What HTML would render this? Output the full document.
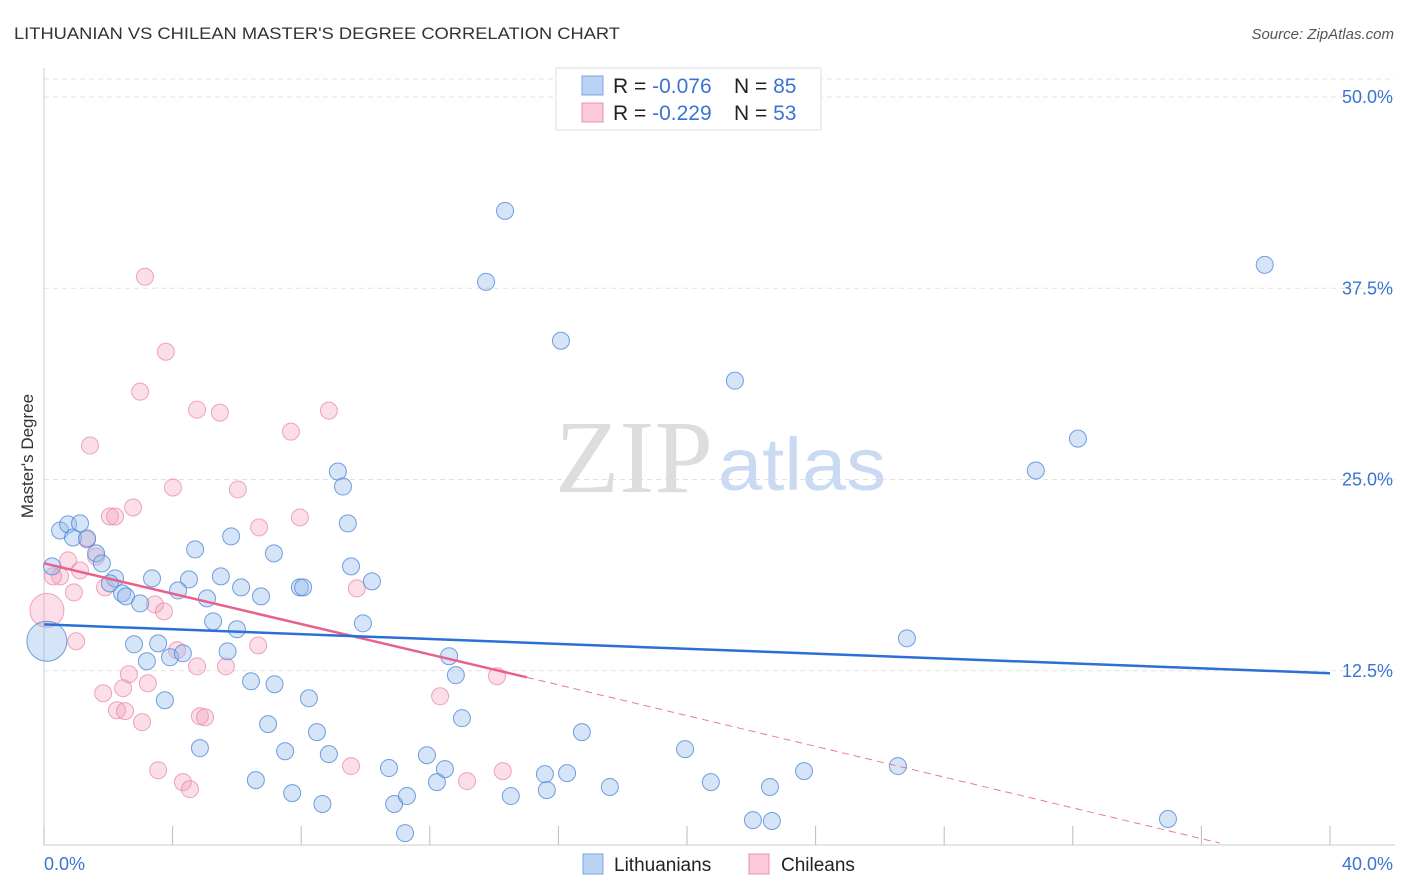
<!DOCTYPE html>
<html><head><meta charset="utf-8">
<style>
body{margin:0;background:#fff;font-family:"Liberation Sans",sans-serif;}
#wrap{position:relative;width:1406px;height:892px;overflow:hidden;}
</style></head>
<body>
<div id="wrap">
<svg id="chart" width="1406" height="892" xmlns="http://www.w3.org/2000/svg">
<text x="14" y="39" font-size="17" fill="#333" textLength="606" lengthAdjust="spacingAndGlyphs">LITHUANIAN VS CHILEAN MASTER'S DEGREE CORRELATION CHART</text>
<text x="1394" y="39" font-size="15" fill="#555" font-style="italic" text-anchor="end">Source: ZipAtlas.com</text>
<text transform="translate(33,456) rotate(-90)" font-size="17" fill="#333" text-anchor="middle">Master's Degree</text>
<g id="grid"></g>
<text x="555" y="492" font-size="104" fill="#ddd" textLength="158" lengthAdjust="spacingAndGlyphs" font-family="Liberation Serif,serif">ZIP</text>
<text x="718" y="490" font-size="74" fill="#c9daf2" textLength="168" lengthAdjust="spacingAndGlyphs">atlas</text>
<g id="pts"></g>
<g id="lines"></g>
<g>
<rect x="556" y="68" width="265" height="62" fill="#fff" stroke="#ddd"/>
<rect x="582" y="76" width="21" height="19" fill="#b9d3f5" stroke="#7aa6dd"/>
<rect x="582" y="103" width="21" height="19" fill="#fbc9d7" stroke="#ea94b0"/>
<text x="613" y="93" font-size="21" fill="#222">R = <tspan fill="#3a74d0">-0.076</tspan></text>
<text x="734" y="93" font-size="21" fill="#222">N = <tspan fill="#3a74d0">85</tspan></text>
<text x="613" y="120" font-size="21" fill="#222">R = <tspan fill="#3a74d0">-0.229</tspan></text>
<text x="734" y="120" font-size="21" fill="#222">N = <tspan fill="#3a74d0">53</tspan></text>
</g>
<g>
<rect x="583" y="854" width="20" height="20" fill="#b9d3f5" stroke="#7aa6dd"/>
<text x="614" y="871" font-size="19" fill="#222">Lithuanians</text>
<rect x="749" y="854" width="20" height="20" fill="#fbc9d7" stroke="#ea94b0"/>
<text x="781" y="871" font-size="19" fill="#222">Chileans</text>
</g>
</svg>
</div>
<script>
const yTicks=[12.5,25,37.5,50];
const yTickLabels=["12.5%","25.0%","37.5%","50.0%"];
const xTicks=[0,4,8,12,16,20,24,28,32,36,40];
const xEndLabels=["0.0%","40.0%"];
const blueX=[14.34,13.75,16.08,21.49,37.97,32.16,30.85,26.84,9.14,9.30,9.45,9.55,10.20,9.92,5.82,4.70,7.15,5.50,4.51,3.36,4.17,6.13,6.75,7.96,8.06,5.07,5.26,6.00,5.71,2.80,3.55,3.20,3.92,4.32,6.44,7.17,8.24,3.76,6.97,8.49,4.85,7.50,8.86,6.59,7.72,8.66,10.73,10.89,11.29,11.23,11.91,12.47,12.22,13.00,12.60,12.81,14.52,15.58,15.64,16.27,16.73,17.60,19.94,20.74,22.05,22.58,22.64,23.64,26.56,34.96,0.25,0.50,0.75,0.90,1.12,1.34,1.62,1.80,2.21,2.05,2.43,2.55,2.99];
const blueY=[42.56,37.92,34.07,31.46,39.03,27.67,25.59,14.62,25.52,24.54,22.13,19.32,18.34,15.60,21.28,20.43,20.17,18.67,18.47,18.54,17.75,17.95,17.36,17.95,17.95,17.23,15.73,15.21,13.77,14.23,14.29,13.12,13.38,13.64,11.81,11.62,10.70,10.57,9.01,8.49,7.44,7.24,7.05,5.35,4.50,3.79,6.14,3.79,4.31,1.89,6.98,6.07,5.22,9.40,13.45,12.21,4.31,5.74,4.70,5.81,8.49,4.90,7.38,5.22,2.74,4.90,2.68,5.94,6.27,2.81,19.32,21.67,22.07,21.21,22.13,21.15,20.17,19.52,18.54,18.21,17.56,17.36,16.90];
const pinkX=[3.14,3.79,2.99,4.76,5.47,8.86,7.68,1.43,4.01,6.03,2.77,2.05,2.21,6.69,7.96,1.34,1.62,0.75,1.12,0.50,0.28,0.93,1.90,3.45,3.73,9.73,1.00,4.14,6.66,4.76,5.66,2.64,3.23,2.46,1.84,12.32,14.09,2.27,2.52,4.85,5.01,3.05,3.55,4.32,4.54,9.55,13.16,14.27];
const pinkY=[38.25,33.35,30.74,29.57,29.37,29.50,28.13,27.22,24.48,24.35,23.17,22.58,22.58,21.87,22.52,21.08,19.97,19.71,19.06,18.67,18.67,17.62,17.95,16.84,16.38,17.88,14.43,13.84,14.16,12.79,12.79,12.27,11.68,11.36,11.03,10.83,12.14,9.92,9.86,9.53,9.46,9.14,6.00,5.22,4.76,6.27,5.29,5.94];
const bigBlue=[[0.09,14.43]];
const bigPink=[[0.09,16.45]];
const blueTrend=[[0,15.53],[40,12.34]];
const pinkTrend=[[0,19.52],[15.02,12.07]];
const pinkDash=[[15.02,12.07],[36.57,1.24]];

const X=v=>44+v/40*1286;
const Y=v=>862-v*15.3;
const NS="http://www.w3.org/2000/svg";
function mk(tag,attrs,parent){const e=document.createElementNS(NS,tag);for(const k in attrs)e.setAttribute(k,attrs[k]);parent.appendChild(e);return e;}
const grid=document.getElementById('grid');
let e;
e=mk('line',{x1:44,y1:68,x2:44,y2:845,stroke:'#ccc'},grid);


e=mk('line',{x1:44,y1:845,x2:1395,y2:845,stroke:'#ccc'},grid);


e=mk('line',{x1:44,y1:79,x2:1395,y2:79,stroke:'#e2e2e2','stroke-dasharray':'5,4'},grid);


yTicks.forEach((t,i)=>{
  e=mk('line',{x1:44,y1:Y(t),x2:1395,y2:Y(t),stroke:'#e2e2e2','stroke-dasharray':'5,4'},grid);
  
  
  e=mk('text',{x:1393,y:Y(t)+6,'font-size':18,fill:'#3a74d0','text-anchor':'end'},grid);
  e.textContent=yTickLabels[i];
  
  
});
xTicks.forEach(t=>{
  e=mk('line',{x1:X(t),y1:826,x2:X(t),y2:845,stroke:'#bbb'},grid);
  
  
});
e=mk('text',{x:44,y:870,'font-size':18,fill:'#3a74d0'},grid);
e.textContent=xEndLabels[0];


e=mk('text',{x:1393,y:870,'font-size':18,fill:'#3a74d0','text-anchor':'end'},grid);
e.textContent=xEndLabels[1];



const pts=document.getElementById('pts');
pinkX.forEach((x,i)=>{
  e=mk('circle',{cx:X(x),cy:Y(pinkY[i]),r:8.5,fill:'rgba(244,160,186,0.35)',stroke:'rgba(232,130,162,0.7)','stroke-width':1},pts);
  
  
});
bigPink.forEach(p=>{
  e=mk('circle',{cx:X(p[0]),cy:Y(p[1]),r:17,fill:'rgba(244,160,186,0.35)',stroke:'rgba(232,130,162,0.7)'},pts);
  
  
});
blueX.forEach((x,i)=>{
  e=mk('circle',{cx:X(x),cy:Y(blueY[i]),r:8.5,fill:'rgba(150,188,236,0.4)',stroke:'rgba(70,130,215,0.75)','stroke-width':1},pts);
  
  
});
bigBlue.forEach(p=>{
  e=mk('circle',{cx:X(p[0]),cy:Y(p[1]),r:20,fill:'rgba(150,188,236,0.4)',stroke:'rgba(70,130,215,0.75)'},pts);
  
  
});
const lines=document.getElementById('lines');
e=mk('line',{x1:X(pinkDash[0][0]),y1:Y(pinkDash[0][1]),x2:X(pinkDash[1][0]),y2:Y(pinkDash[1][1]),stroke:'#e8789c','stroke-width':1,'stroke-dasharray':'7,5'},lines);


e=mk('line',{x1:X(pinkTrend[0][0]),y1:Y(pinkTrend[0][1]),x2:X(pinkTrend[1][0]),y2:Y(pinkTrend[1][1]),stroke:'#e8608c','stroke-width':2.5},lines);


e=mk('line',{x1:X(blueTrend[0][0]),y1:Y(blueTrend[0][1]),x2:X(blueTrend[1][0]),y2:Y(blueTrend[1][1]),stroke:'#2c6fd6','stroke-width':2.5},lines);


</script>
</body></html>
